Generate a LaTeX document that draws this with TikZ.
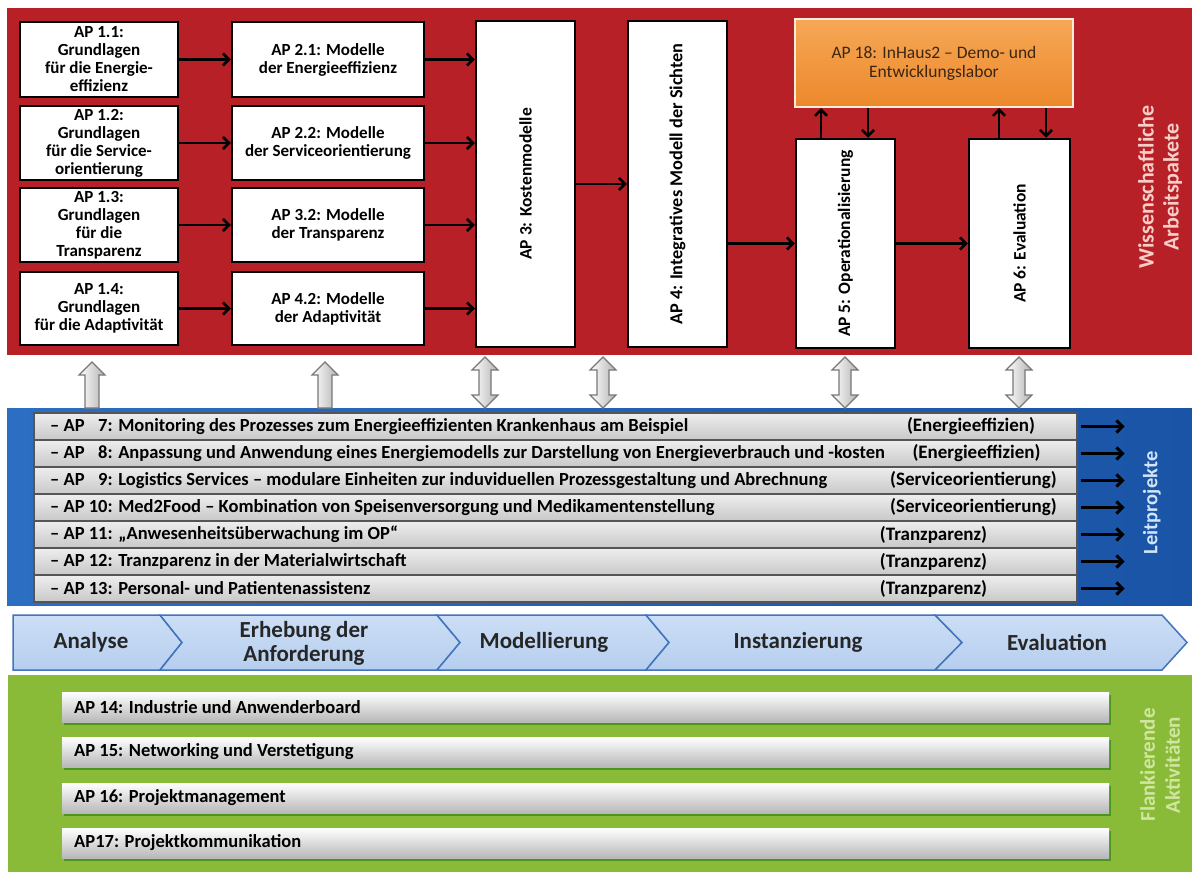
\documentclass[tikz,border=0pt]{standalone}
\usepackage{fontspec}
\setmainfont{Carlito}
\usetikzlibrary{arrows.meta,shadows}
\definecolor{redbg}{RGB}{182,32,38}
\definecolor{bluebg}{RGB}{44,110,194}
\definecolor{bluedark}{RGB}{26,84,166}
\definecolor{greenbg}{RGB}{138,187,56}
\definecolor{orangetop}{RGB}{246,168,86}
\definecolor{orangebot}{RGB}{236,136,44}
\definecolor{orangetext}{RGB}{60,38,18}
\definecolor{chevborder}{RGB}{66,116,188}
\definecolor{chevtop}{RGB}{204,222,246}
\definecolor{chevmid}{RGB}{238,244,252}
\definecolor{chevbot}{RGB}{182,206,238}
\definecolor{rowtop}{RGB}{238,238,238}
\definecolor{rowbot}{RGB}{200,200,200}
\definecolor{rowline}{RGB}{85,85,85}
\definecolor{hollowline}{RGB}{120,120,120}
\definecolor{pinklabel}{RGB}{250,206,200}
\definecolor{bluelabel}{RGB}{210,228,250}
\definecolor{greenlabel}{RGB}{208,230,160}
\begin{document}
\begin{tikzpicture}[x=1pt,y=-1pt,
  wbox/.style={draw=black, line width=2.5pt, fill=white, inner sep=0pt, align=center,
    font=\bfseries\fontsize{17pt}{18pt}\selectfont},
  rtext/.style={rotate=90, inner sep=0pt, font=\bfseries\fontsize{17.5pt}{18pt}\selectfont},
  conn/.style={line width=2.5pt, -{Straight Barb[length=6pt,width=12pt]}},
  hollow/.style={draw=hollowline, line width=1.2pt, left color=white, right color=black!30},
  rowbox/.style={draw=rowline, line width=1.2pt, top color=rowtop, bottom color=rowbot,
    minimum width=1043, minimum height=27, inner sep=0pt},
  rowtxt/.style={anchor=west, inner sep=0pt, font=\bfseries\fontsize{18.5pt}{20pt}\selectfont},
  cattxt/.style={inner sep=0pt, font=\bfseries\fontsize{19pt}{20pt}\selectfont},
  chev/.style={draw=chevborder, line width=1.5pt, top color=chevtop, middle color=chevmid, bottom color=chevbot},
  chevtxt/.style={inner sep=0pt, align=center, text=black!85, font=\bfseries\fontsize{23pt}{24pt}\selectfont},
  gbar/.style={top color=white, bottom color=black!28, minimum width=1047, minimum height=30, inner sep=0pt,
    drop shadow={shadow xshift=1.5pt, shadow yshift=-2.5pt, opacity=0.45, fill=black!60!green}},
  gtxt/.style={anchor=west, inner sep=0pt, font=\bfseries\fontsize{18.5pt}{20pt}\selectfont},
  uparrow/.pic={\path[hollow] (0,0) -- (13,13) -- (7,13) -- (7,46) -- (-7,46) -- (-7,13) -- (-13,13) -- cycle;},
  dblarrow/.pic={\path[hollow] (0,0) -- (13,13) -- (6,13) -- (6,38) -- (13,38) -- (0,51) -- (-13,38) -- (-6,38) -- (-6,13) -- (-13,13) -- cycle;}
]
\useasboundingbox (0,0) rectangle (1192,872);
\fill[white] (0,0) rectangle (1192,872);

% ---------- bands ----------
\fill[redbg] (7,8) rectangle (1192,355);
\shade[left color=bluebg, right color=bluedark] (7,408) rectangle (1192,605);
\fill[greenbg] (8,675) rectangle (1192,872);

% ---------- scientific work packages ----------
\node[wbox, minimum width=158, minimum height=75] (c1a) at (99,59.5) {AP 1.1:\\Grundlagen\\für die Energie-\\effizienz};
\node[wbox, minimum width=158, minimum height=74] (c1b) at (99,143) {AP 1.2:\\Grundlagen\\für die Service-\\orientierung};
\node[wbox, minimum width=158, minimum height=74] (c1c) at (99,225) {AP 1.3:\\Grundlagen\\für die\\Transparenz};
\node[wbox, minimum width=158, minimum height=73] (c1d) at (99,308.5) {AP 1.4:\\Grundlagen\\für die Adaptivität};

\node[wbox, minimum width=192, minimum height=75] (c2a) at (328,59.5) {AP 2.1: Modelle\\der Energieeffizienz};
\node[wbox, minimum width=192, minimum height=74] (c2b) at (328,143) {AP 2.2: Modelle\\der Serviceorientierung};
\node[wbox, minimum width=192, minimum height=74] (c2c) at (328,225) {AP 3.2: Modelle\\der Transparenz};
\node[wbox, minimum width=192, minimum height=73] (c2d) at (328,308.5) {AP 4.2: Modelle\\der Adaptivität};

\node[wbox, minimum width=99, minimum height=326] (ap3) at (525.5,184) {};
\node[rtext] (ap3t) at (ap3.center) {AP 3: Kostenmodelle};
\node[wbox, minimum width=99, minimum height=326] (ap4) at (677.5,184) {};
\node[rtext, font=\bfseries\fontsize{18.3pt}{18pt}\selectfont] (ap4t) at (ap4.center) {AP 4: Integratives Modell der Sichten};
\node[wbox, minimum width=99, minimum height=209] (ap5) at (845.5,243.5) {};
\node[rtext] (ap5t) at (ap5.center) {AP 5: Operationalisierung};
\node[wbox, minimum width=101, minimum height=209] (ap6) at (1019.5,243.5) {};
\node[rtext] (ap6t) at (ap6.center) {AP 6: Evaluation};

\node[draw=white!85!orange, line width=2pt, top color=orangetop, bottom color=orangebot,
  minimum width=278, minimum height=88, inner sep=0pt, align=center, text=orangetext,
  font=\fontsize{17.5pt}{19pt}\selectfont] (ap18) at (934,63) {AP 18: InHaus2 – Demo- und\\Entwicklungslabor};

% arrows
\foreach \a/\b in {c1a/c2a,c1b/c2b,c1c/c2c,c1d/c2d}{
  \draw[conn] (\a.east) -- (\b.west);
  \draw[conn] (\b.east) -- (\b.east -| ap3.west);
}
\draw[conn] (ap3.east) -- (ap4.west);
\draw[conn] (ap5.west -| ap4.east) -- (ap5.west);
\draw[conn] (ap5.east) -- (ap6.west);
\draw[conn] ([xshift=-24.5pt]ap5.north) -- ([xshift=-24.5pt]ap5.north |- ap18.south);
\draw[conn] ([xshift=22.5pt]ap5.north |- ap18.south) -- ([xshift=22.5pt]ap5.north);
\draw[conn] ([xshift=-20.5pt]ap6.north) -- ([xshift=-20.5pt]ap6.north |- ap18.south);
\draw[conn] ([xshift=26.5pt]ap6.north |- ap18.south) -- ([xshift=26.5pt]ap6.north);

\node[rotate=90, align=center, text=pinklabel, inner sep=0pt,
  font=\bfseries\fontsize{22pt}{25pt}\selectfont] (lblw) at (1160,187) {Wissenschaftliche\\Arbeitspakete};

% hollow block arrows
\pic at (92,362) {uparrow};
\pic at (325,362) {uparrow};
\pic at (485,357) {dblarrow};
\pic at (603,357) {dblarrow};
\pic at (845,357) {dblarrow};
\pic at (1019,357) {dblarrow};

% ---------- lead projects ----------
\node[rowbox] (r7)  at (555.5,426.5) {};
\node[rowbox] (r8)  at (555.5,453.5) {};
\node[rowbox] (r9)  at (555.5,480.5) {};
\node[rowbox] (r10) at (555.5,507.5) {};
\node[rowbox] (r11) at (555.5,534.5) {};
\node[rowbox] (r12) at (555.5,561.5) {};
\node[rowbox] (r13) at (555.5,588.5) {};

\node[rowtxt] (t7)  at (50,426.5) {– AP \phantom{1}7: Monitoring des Prozesses zum Energieeffizienten Krankenhaus am Beispiel};
\node[rowtxt] (t8)  at (50,453.5) {– AP \phantom{1}8: Anpassung und Anwendung eines Energiemodells zur Darstellung von Energieverbrauch und -kosten};
\node[rowtxt] (t9)  at (50,480.5) {– AP \phantom{1}9: Logistics Services – modulare Einheiten zur induviduellen Prozessgestaltung und Abrechnung};
\node[rowtxt] (t10) at (50,507.5) {– AP 10: Med2Food – Kombination von Speisenversorgung und Medikamentenstellung};
\node[rowtxt] (t11) at (50,534.5) {– AP 11: „Anwesenheitsüberwachung im OP“};
\node[rowtxt] (t12) at (50,561.5) {– AP 12: Tranzparenz in der Materialwirtschaft};
\node[rowtxt] (t13) at (50,588.5) {– AP 13: Personal- und Patientenassistenz};

\node[cattxt] (k7)  at (971,426.5) {(Energieeffizien)};
\node[cattxt] (k8)  at (976.5,453.5) {(Energieeffizien)};
\node[cattxt] (k9)  at (973.5,480.5) {(Serviceorientierung)};
\node[cattxt] (k10) at (973.5,507.5) {(Serviceorientierung)};
\node[cattxt] (k11) at (933.5,534.5) {(Tranzparenz)};
\node[cattxt] (k12) at (933.5,561.5) {(Tranzparenz)};
\node[cattxt] (k13) at (933.5,588.5) {(Tranzparenz)};

\foreach \r in {7,...,13}{
  \coordinate (e\r) at ([xshift=47pt]r\r.east);
  \draw[conn, line width=3pt, shorten <=3pt] (r\r.east) -- (e\r);
}

\node[rotate=90, text=bluelabel, inner sep=0pt,
  font=\bfseries\fontsize{20.5pt}{22pt}\selectfont] (lbll) at (1152,503) {Leitprojekte};

% ---------- process chevrons ----------
\path[chev] (13,615) -- (160,615) -- (182,642.5) -- (160,670) -- (13,670) -- cycle;
\path[chev] (160,615) -- (437,615) -- (460,642.5) -- (437,670) -- (160,670) -- (182,642.5) -- cycle;
\path[chev] (437,615) -- (646,615) -- (669,642.5) -- (646,670) -- (437,670) -- (460,642.5) -- cycle;
\path[chev] (646,615) -- (935,615) -- (962,642.5) -- (935,670) -- (646,670) -- (669,642.5) -- cycle;
\path[chev] (935,615) -- (1162,615) -- (1187,642.5) -- (1162,670) -- (935,670) -- (962,642.5) -- cycle;

\node[chevtxt] (p1) at (91,642.5) {Analyse};
\node[chevtxt] (p2) at (304,643) {Erhebung der\\Anforderung};
\node[chevtxt] (p3) at (544,642.5) {Modellierung};
\node[chevtxt] (p4) at (798,642.5) {Instanzierung};
\node[chevtxt] (p5) at (1057,642.5) {Evaluation};

% ---------- accompanying activities ----------
\node[gbar] (g14) at (585.5,707) {};
\node[gbar] (g15) at (585.5,752) {};
\node[gbar] (g16) at (585.5,798) {};
\node[gbar] (g17) at (585.5,843) {};
\node[gtxt] (g14t) at (74,707) {AP 14: Industrie und Anwenderboard};
\node[gtxt] (g15t) at (74,752) {AP 15: Networking und Verstetigung};
\node[gtxt] (g16t) at (74,798) {AP 16: Projektmanagement};
\node[gtxt] (g17t) at (74,843) {AP17: Projektkommunikation};

\node[rotate=90, align=center, text=greenlabel, inner sep=0pt,
  font=\bfseries\fontsize{21pt}{25pt}\selectfont] (lblf) at (1160,765) {Flankierende\\Aktivitäten};
\end{tikzpicture}
\end{document}
